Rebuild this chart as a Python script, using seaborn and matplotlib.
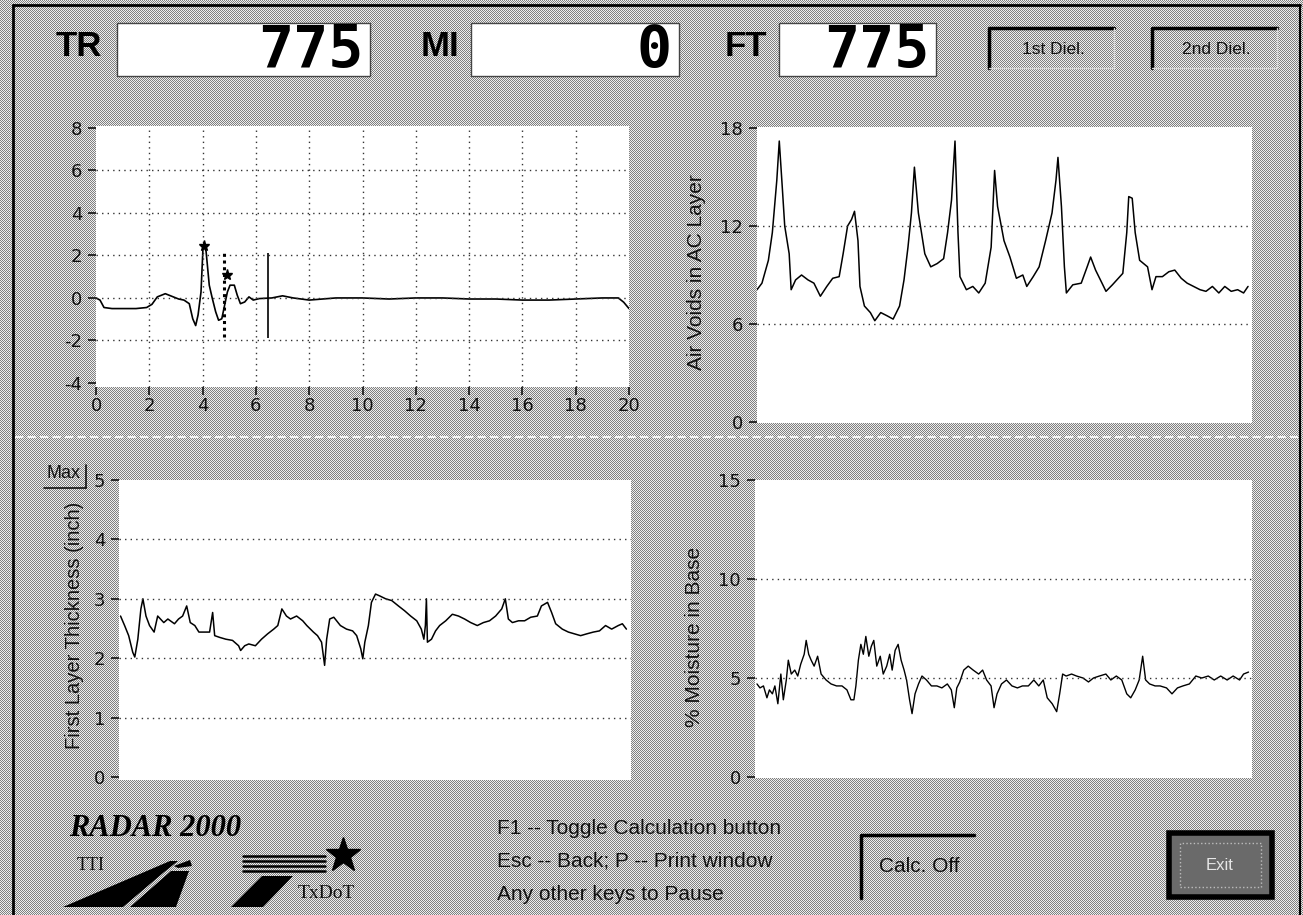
import numpy as np
import matplotlib
matplotlib.use("Agg")
import matplotlib.pyplot as plt
import matplotlib.patches as mpatches
from matplotlib.lines import Line2D
import seaborn as sns

# ---------------- data ----------------
# GPR waveform (top-left), time in ns
gpr_t = [0.0, 0.15, 0.3, 0.6, 1.0, 1.5, 1.9, 2.1, 2.3, 2.6, 2.9, 3.1, 3.3, 3.5, 3.63, 3.74,
         3.83, 3.94, 4.02, 4.13, 4.25, 4.36, 4.49, 4.6, 4.72, 4.8, 4.93, 5.03, 5.19, 5.3,
         5.42, 5.58, 5.74, 5.9, 6.13, 6.6, 7.0, 7.4, 8.0, 8.5, 9.0, 10.0, 11.0, 12.0, 13.0,
         14.0, 15.0, 16.0, 17.0, 18.0, 19.0, 19.6, 19.8, 20.0]
gpr_v = [0.0, -0.1, -0.45, -0.5, -0.5, -0.5, -0.45, -0.3, 0.05, 0.2, 0.05, -0.05, -0.1, -0.27,
         -0.98, -1.3, -0.8, 0.28, 2.5, 2.2, 0.6, 0.0, -0.65, -1.05, -0.98, -0.5, 0.28, 0.6,
         0.6, 0.13, -0.27, -0.19, 0.05, -0.1, -0.03, 0.0, 0.1, 0.0, -0.1, -0.05, 0.0, 0.0,
         -0.05, 0.0, 0.0, -0.05, -0.05, -0.1, -0.1, -0.05, 0.0, 0.0, -0.2, -0.5]
gpr_peak_t = [4.05, 4.93]
gpr_peak_v = [2.45, 1.07]
pick_dotted_t = 4.8
pick_solid_t = 6.44
gpr_xticks = [0, 2, 4, 6, 8, 10, 12, 14, 16, 18, 20]
gpr_yticks = [-4, -2, 0, 2, 4, 6, 8]

# Air voids (top-right)
air_pos = [0, 1.0, 2.3, 3.1, 4.0, 4.5, 5.1, 5.6, 6.5, 6.9, 7.8, 9.0, 10.3, 11.5, 12.8, 14.1,
           15.3, 16.6, 17.4, 18.3, 19.1, 19.7, 20.4, 20.8, 21.7, 22.9, 23.8, 25.0, 26.3, 27.5,
           28.8, 29.7, 30.5, 31.2, 31.8, 32.6, 33.9, 35.1, 36.4, 37.7, 38.5, 39.3, 40.0, 40.6,
           41.0, 42.3, 43.6, 44.8, 46.1, 47.3, 48.0, 48.6, 49.9, 51.1, 52.4, 53.7, 54.5, 55.8,
           57.0, 58.3, 59.6, 60.4, 60.8, 61.5, 62.1, 62.5, 63.8, 65.5, 66.7, 67.4, 68.4, 69.7,
           70.5, 71.8, 73.0, 73.9, 74.7, 75.1, 75.8, 76.4, 77.3, 78.1, 78.9, 79.8, 80.6, 81.9,
           83.2, 84.4, 85.7, 86.9, 88.2, 89.5, 90.7, 92.0, 93.3, 94.5, 95.8, 97.1, 98.3, 99.2]
air_val = [8.1, 8.5, 9.9, 11.6, 14.8, 17.2, 14.4, 12.0, 10.3, 8.1, 8.7, 9.0, 8.7, 8.5, 7.7, 8.3,
           8.8, 8.9, 10.3, 12.0, 12.4, 12.9, 11.1, 8.3, 7.1, 6.7, 6.2, 6.7, 6.5, 6.3,
           7.1, 8.7, 10.7, 12.8, 15.6, 12.8, 10.3, 9.5, 9.7, 10.0, 11.6, 13.6, 17.2, 11.6,
           8.9, 8.1, 8.3, 7.9, 8.5, 10.7, 15.4, 13.2, 11.1, 10.1, 8.8, 9.0, 8.3, 8.9,
           9.5, 11.1, 12.8, 14.8, 16.2, 13.2, 9.5, 7.9, 8.4, 8.5, 9.5, 10.1, 9.3, 8.5,
           8.0, 8.4, 8.8, 9.1, 11.6, 13.8, 13.7, 11.6, 9.9, 9.7, 9.5, 8.1, 8.9, 8.9,
           9.2, 9.3, 8.8, 8.5, 8.3, 8.1, 8.0, 8.3, 7.9, 8.3, 8.0, 8.1, 7.9, 8.3]
air_yticks = [0, 6, 12, 18]

# First layer thickness (bottom-left)
thk_pos = [0.2, 1.0, 1.8, 2.6, 3.0, 3.6, 4.2, 4.6, 5.2, 5.9, 6.8, 7.5, 8.7, 9.5, 10.8, 11.6,
           12.4, 13.2, 13.9, 14.8, 15.6, 16.5, 17.7, 18.3, 18.7, 19.7, 20.9, 22.2, 23.4, 23.8,
           24.6, 25.4, 26.7, 27.9, 29.1, 30.3, 31.1, 31.9, 32.8, 33.6, 34.8, 36.0, 36.8, 38.1,
           38.9, 39.7, 40.3, 40.7, 41.3, 42.1, 43.4, 44.6, 45.8, 46.6, 47.4, 47.8, 48.2, 48.9,
           49.5, 50.3, 51.1, 52.3, 53.5, 54.8, 56.0, 57.2, 58.4, 59.3, 59.8, 60.1, 60.3, 60.5,
           61.3, 62.1, 62.9, 64.1, 65.4, 66.6, 67.8, 69.0, 70.3, 71.5, 72.7, 73.9, 75.1, 75.8,
           76.4, 77.2, 78.4, 79.6, 80.8, 82.1, 82.9, 84.1, 84.9, 85.7, 87.0, 88.2, 89.4, 90.6,
           91.8, 93.1, 94.3, 95.5, 96.7, 98.0, 98.8, 99.6]
thk_val = [2.71, 2.55, 2.38, 2.10, 2.02, 2.32, 2.83, 3.0, 2.71, 2.55, 2.44, 2.71, 2.60, 2.66, 2.58, 2.66,
           2.71, 2.88, 2.60, 2.55, 2.44, 2.44, 2.44, 2.77, 2.38, 2.35, 2.32, 2.30, 2.21, 2.13,
           2.21, 2.24, 2.21, 2.32, 2.41, 2.49, 2.55, 2.83, 2.71, 2.66, 2.71, 2.63, 2.55, 2.44,
           2.38, 2.27, 1.88, 2.32, 2.66, 2.69, 2.55, 2.49, 2.46, 2.38, 2.16, 1.99, 2.27, 2.55,
           2.94, 3.08, 3.05, 3.0, 2.97, 2.88, 2.80, 2.71, 2.63, 2.49, 2.32, 2.55, 3.0, 2.27,
           2.32, 2.46, 2.55, 2.63, 2.74, 2.71, 2.66, 2.60, 2.55, 2.60, 2.63, 2.71, 2.83, 3.0,
           2.66, 2.60, 2.63, 2.63, 2.69, 2.71, 2.88, 2.94, 2.77, 2.58, 2.49, 2.44, 2.41, 2.38,
           2.41, 2.44, 2.46, 2.55, 2.49, 2.55, 2.58, 2.49]
thk_yticks = [0, 1, 2, 3, 4, 5]

# Moisture in base (bottom-right)
moi_pos = [0.4, 1.0, 1.7, 2.4, 2.9, 3.5, 4.0, 4.6, 5.2, 5.7, 6.3, 6.7, 7.3, 8.0, 8.6, 9.2,
           9.9, 10.3, 10.8, 11.3, 11.9, 12.6, 13.3, 14.3, 15.3, 16.4, 17.5, 18.5, 19.3, 19.9,
           20.3, 20.8, 21.3, 21.8, 22.3, 22.9, 23.4, 23.9, 24.5, 25.2, 25.8, 26.5, 27.1, 27.6,
           28.2, 28.8, 29.4, 30.0, 30.5, 31.1, 31.6, 32.2, 32.9, 33.6, 34.5, 35.5, 36.6, 37.6,
           38.7, 39.5, 40.1, 40.6, 41.2, 42.0, 42.9, 43.9, 45.0, 45.8, 46.6, 47.5, 48.1, 48.7,
           49.6, 50.6, 51.7, 52.8, 53.8, 55.0, 56.1, 57.1, 58.0, 58.8, 59.8, 60.7, 61.3, 61.9,
           62.6, 63.7, 64.7, 66.0, 67.1, 68.1, 69.3, 70.6, 71.6, 72.7, 73.8, 74.8, 75.6, 76.5,
           77.3, 78.0, 78.6, 79.4, 80.5, 81.5, 82.8, 83.9, 85.0, 86.1, 87.4, 88.7, 89.9, 91.2,
           92.4, 93.7, 95.0, 96.2, 97.5, 98.3, 99.3]
moi_val = [4.7, 4.5, 4.6, 4.0, 4.4, 4.2, 4.6, 3.7, 5.2, 3.9, 4.9, 5.9, 5.2, 5.4, 5.1, 5.7,
           6.2, 6.9, 6.2, 5.9, 5.6, 6.1, 5.2, 4.9, 4.7, 4.6, 4.6, 4.4, 3.9, 3.9,
           4.6, 5.9, 6.7, 6.2, 7.1, 6.1, 6.6, 6.9, 5.6, 6.1, 5.2, 5.6, 6.2, 5.4,
           6.4, 6.7, 5.9, 5.4, 4.9, 3.9, 3.2, 4.2, 4.7, 5.1, 4.9, 4.6, 4.6, 4.5,
           4.7, 4.4, 3.5, 4.5, 4.8, 5.4, 5.6, 5.4, 5.2, 5.4, 4.9, 4.6, 3.5, 4.2,
           4.7, 4.9, 4.6, 4.5, 4.6, 4.6, 4.9, 4.6, 4.9, 4.0, 3.7, 3.3, 4.2, 5.2,
           5.1, 5.2, 5.1, 5.0, 4.8, 5.0, 5.1, 5.2, 4.9, 5.1, 4.9, 4.2, 4.0, 4.4,
           4.9, 6.1, 4.9, 4.7, 4.6, 4.6, 4.5, 4.2, 4.5, 4.6, 4.7, 5.1, 5.0, 5.1,
           4.9, 5.1, 4.9, 5.1, 4.9, 5.2, 5.3]
moi_yticks = [0, 5, 10, 15]

counters = {"TR": "775", "MI": "0", "FT": "775"}
help_lines = ["F1 -- Toggle Calculation button",
              "Esc -- Back; P -- Print window",
              "Any other keys to Pause"]

assert len(gpr_t) == len(gpr_v)
assert len(air_pos) == len(air_val)
assert len(thk_pos) == len(thk_val)
assert len(moi_pos) == len(moi_val)

# ---------------- style ----------------
sns.set_style("white")
plt.rcParams["font.family"] = ["Liberation Sans", "DejaVu Sans"]

W, H = 1303, 915
fig = plt.figure(figsize=(W / 100, H / 100), dpi=100)


def R(x0, y0, x1, y1):
    return [x0 / W, 1 - y1 / H, (x1 - x0) / W, (y1 - y0) / H]


def T(x, y, s, **kw):
    return fig.text(x / W, 1 - y / H, s, **kw)


def box(x0, y0, x1, y1, **kw):
    p = mpatches.Rectangle((x0 / W, 1 - y1 / H), (x1 - x0) / W, (y1 - y0) / H,
                           transform=fig.transFigure, **kw)
    fig.add_artist(p)
    return p


def line(xs, ys, **kw):
    l = Line2D([x / W for x in xs], [1 - y / H for y in ys], transform=fig.transFigure, **kw)
    fig.add_artist(l)
    return l


def poly(pts, **kw):
    p = mpatches.Polygon([(x / W, 1 - y / H) for x, y in pts], closed=True,
                         transform=fig.transFigure, **kw)
    fig.add_artist(p)
    return p


# dithered gray background
yy, xx = np.mgrid[0:H, 0:W]
bg = np.where((xx + yy) % 2 == 0, 0.50, 0.93)
fig.figimage(bg, xo=0, yo=0, cmap="gray", vmin=0, vmax=1, origin="upper", zorder=-10)

INK = "#111111"
GRID = dict(color="#333333", linestyle=(0, (1, 3)), linewidth=1.0)
TICKFONT = "DejaVu Sans"


def style_axes(ax, yticks, xticks=None):
    ax.set_facecolor("white")
    for s in ax.spines.values():
        s.set_visible(False)
    ax.set_yticks(yticks)
    ax.set_yticklabels([str(v) for v in yticks], family=TICKFONT)
    if xticks is None:
        ax.set_xticks([])
    else:
        ax.set_xticks(xticks)
        ax.set_xticklabels([str(v) for v in xticks], family=TICKFONT)
    ax.tick_params(axis="y", left=True, length=6, width=1.2, color=INK, pad=4,
                   labelsize=13, labelcolor=INK)
    ax.tick_params(axis="x", bottom=True, length=6, width=1.2, color=INK, pad=1,
                   labelsize=13, labelcolor=INK)
    ax.set_xlabel("")
    ax.set_ylabel("")


# ---- top-left waveform ----
ax1 = fig.add_axes(R(96, 126, 629, 387))
sns.lineplot(x=gpr_t, y=gpr_v, ax=ax1, color="black", linewidth=1.2, estimator=None, sort=False)
ax1.set_xlim(0, 20)
ax1.set_ylim(-4.19, 8.09)
style_axes(ax1, gpr_yticks, gpr_xticks)
for v in gpr_xticks[1:-1]:
    ax1.axvline(v, **GRID)
for v in gpr_yticks[1:-1]:
    ax1.axhline(v, **GRID)
ax1.vlines(pick_dotted_t, -1.85, 2.1, colors="black", linestyles=(0, (1, 1.2)), linewidth=2.2)
ax1.vlines(pick_solid_t, -1.9, 2.1, colors="black", linewidth=1.2)
ax1.plot(gpr_peak_t, gpr_peak_v, linestyle="none", marker="*", markersize=8, color="black")

# ---- top-right air voids ----
ax2 = fig.add_axes(R(757, 127, 1252, 423))
sns.lineplot(x=air_pos, y=air_val, ax=ax2, color="black", linewidth=1.1, estimator=None, sort=False)
ax2.set_xlim(0, 100)
ax2.set_ylim(-0.06, 18.06)
style_axes(ax2, air_yticks)
for v in [6, 12]:
    ax2.axhline(v, **GRID)

# ---- bottom-left thickness ----
ax3 = fig.add_axes(R(119, 480, 631, 780))
sns.lineplot(x=thk_pos, y=thk_val, ax=ax3, color="black", linewidth=1.1, estimator=None, sort=False)
ax3.set_xlim(-0.1, 100.5)
ax3.set_ylim(-0.05, 5.0)
style_axes(ax3, thk_yticks)
for v in [1, 2, 3, 4]:
    ax3.axhline(v, **GRID)

# ---- bottom-right moisture ----
ax4 = fig.add_axes(R(755, 480, 1252, 778))
sns.lineplot(x=moi_pos, y=moi_val, ax=ax4, color="black", linewidth=1.0, estimator=None, sort=False)
ax4.set_xlim(0, 100)
ax4.set_ylim(-0.05, 15.0)
style_axes(ax4, moi_yticks)
for v in [5, 10]:
    ax4.axhline(v, **GRID)

# y-axis titles
T(696, 272, "Air Voids in AC Layer", rotation=90, ha="center", va="center", fontsize=15, color=INK)
T(74, 625, "First Layer Thickness (inch)", rotation=90, ha="center", va="center", fontsize=14.5, color=INK)
T(694, 637, "% Moisture in Base", rotation=90, ha="center", va="center", fontsize=15, color=INK)

# "Max" field
T(64, 474, "Max", ha="center", va="center", fontsize=13, color=INK)
line([44, 86], [488, 488], color=INK, lw=1.2)
line([86, 86], [465, 488], color=INK, lw=1.2)

# ---- top counters ----
label_pos = {"TR": 79, "MI": 440, "FT": 746}
box_pos = {"TR": (117, 370), "MI": (471, 679), "FT": (779, 936)}
for k, v in counters.items():
    T(label_pos[k], 46, k, ha="center", va="center", fontsize=25, fontweight="bold", color="black")
    x0, x1 = box_pos[k]
    box(x0, 23, x1, 76, facecolor="white", edgecolor="#444444", lw=1.0, zorder=2)
    T(x1 - 7, 50, v, ha="right", va="center", fontsize=42, fontweight="bold",
      family="DejaVu Sans Mono", color="black", zorder=4)

# toggle buttons
for (x0, x1), lab in [((989, 1114), "1st Diel."), ((1152, 1277), "2nd Diel.")]:
    line([x0, x0, x1], [68, 28, 28], color="black", lw=2.5, zorder=3)
    line([x1, x1, x0], [28, 68, 68], color="#d8d8d8", lw=1.0, zorder=3)
    T((x0 + x1) / 2 + 2, 49, lab, ha="center", va="center", fontsize=12.5, color=INK)

# separator
line([15, 1298], [437, 437], color="#f4f4f4", lw=1.5, linestyle=(0, (4, 2)), zorder=1)

# ---- bottom area ----
T(155, 829, "RADAR 2000", ha="center", va="center", fontsize=22, fontweight="bold",
  fontstyle="italic", family=["Liberation Serif", "DejaVu Serif"], color="black")
T(91, 866, "TTI", ha="center", va="center", fontsize=13,
  family=["Liberation Serif", "DejaVu Serif"], color=INK)
# TTI logo shapes
poly([(63, 907), (123, 907), (163, 873), (178, 861), (170, 861)], facecolor="black", edgecolor="none")
poly([(130, 907), (176, 907), (189, 871), (171, 871)], facecolor="black", edgecolor="none")
poly([(174, 866), (190, 860), (192, 866), (178, 868)], facecolor="black", edgecolor="none")
# TxDoT logo shapes
for yv in [856, 861, 866, 871]:
    line([243, 325], [yv, yv], color="black", lw=1.8)
line([343], [855], marker="*", markersize=26, color="black", linestyle="none")
poly([(231, 907), (263, 907), (293, 876), (262, 876)], facecolor="black", edgecolor="none")
T(298, 894, "TxDoT", ha="left", va="center", fontsize=14,
  family=["Liberation Serif", "DejaVu Serif"], color=INK)

for i, s in enumerate(help_lines):
    T(497, 828 + 33 * i, s, ha="left", va="center", fontsize=15, color=INK)

# Calc. Off button
line([861, 861, 974], [898, 835, 835], color="black", lw=2.5)
T(919, 867, "Calc. Off", ha="center", va="center", fontsize=15, color=INK)

# Exit button
box(1169, 833, 1272, 897, facecolor="#6a6a6a", edgecolor="black", lw=4, zorder=2)
box(1180, 843, 1261, 887, facecolor="none", edgecolor="#bdbdbd", lw=1, linestyle=":", zorder=3)
T(1220, 865, "Exit", ha="center", va="center", fontsize=12, color="#e6e6e6", zorder=4)

# window frame
line([13, 13], [5, 915], color="black", lw=2)
line([13, 1300], [5, 5], color="black", lw=2)
line([1300, 1300], [5, 915], color="black", lw=1.5)

fig.savefig("out.png", dpi=100)
